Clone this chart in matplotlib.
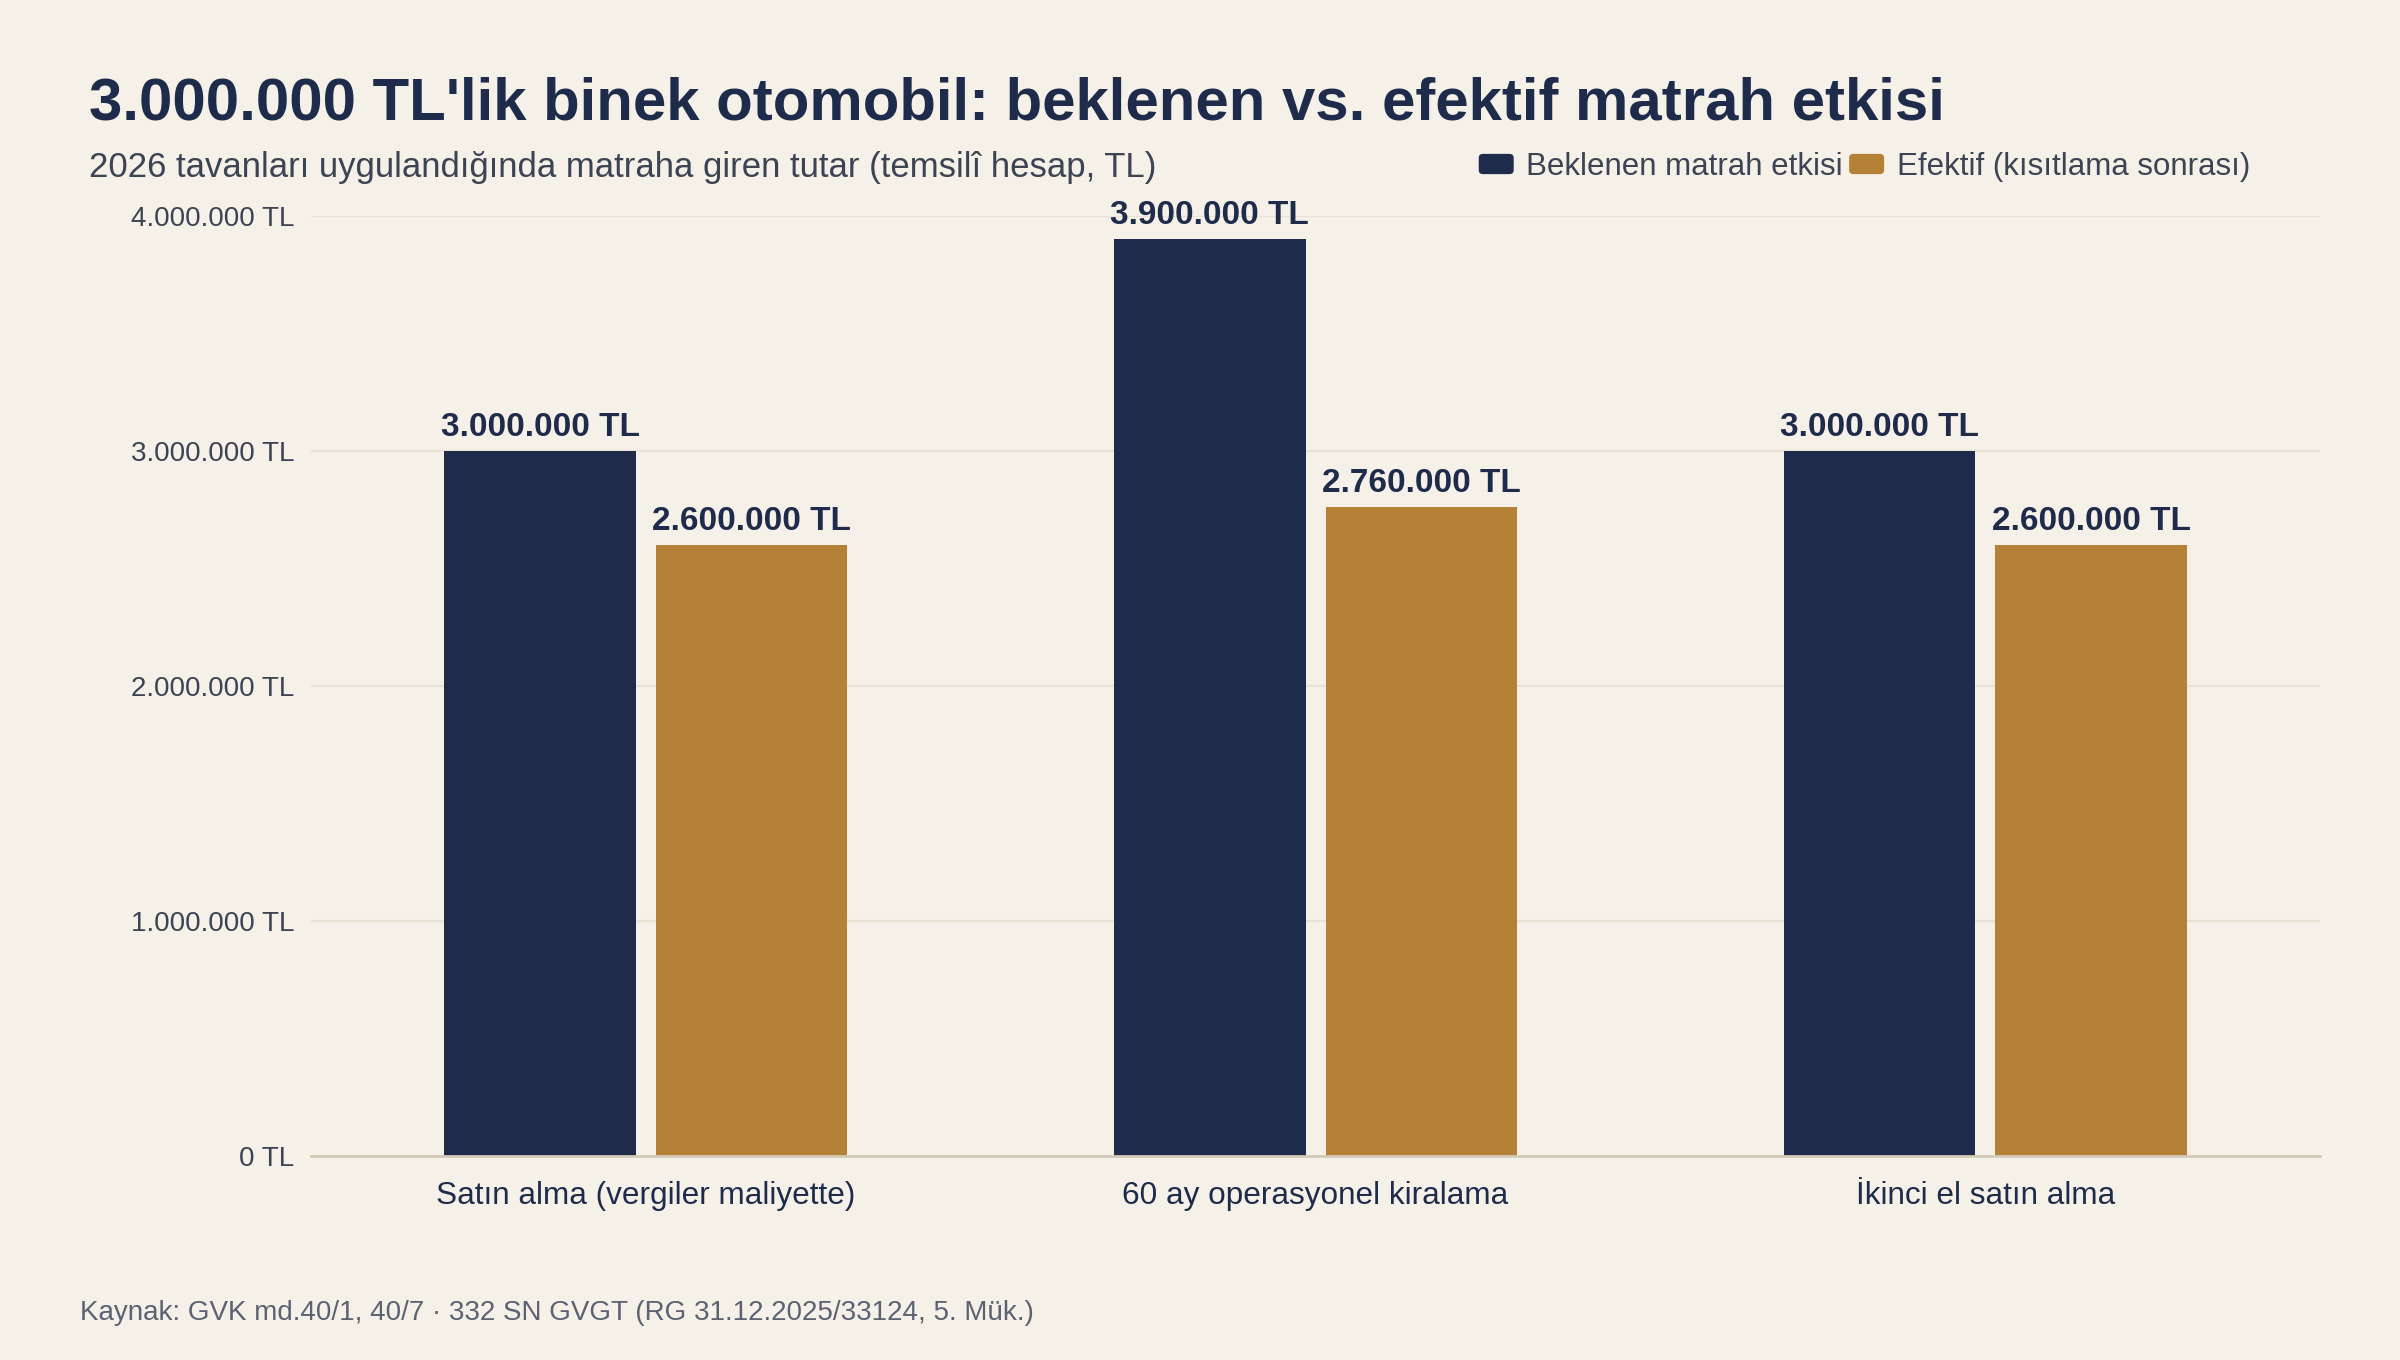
import matplotlib
matplotlib.use("Agg")
import matplotlib.pyplot as plt
import numpy as np
from matplotlib.ticker import FuncFormatter
from matplotlib.patches import FancyBboxPatch, Rectangle
from matplotlib.legend_handler import HandlerPatch

categories = ["Satın alma (vergiler maliyette)", "60 ay operasyonel kiralama", "İkinci el satın alma"]
expected = [3000000, 3900000, 3000000]
effective = [2600000, 2760000, 2600000]
series_names = ["Beklenen matrah etkisi", "Efektif (kısıtlama sonrası)"]
yticks = [0, 1000000, 2000000, 3000000, 4000000]

title = "3.000.000 TL'lik binek otomobil: beklenen vs. efektif matrah etkisi"
subtitle = "2026 tavanları uygulandığında matraha giren tutar (temsilî hesap, TL)"
footer = "Kaynak: GVK md.40/1, 40/7 · 332 SN GVGT (RG 31.12.2025/33124, 5. Mük.)"

BG = "#f5f1e9"
NAVY = "#1e2b4a"
GOLD = "#b58137"
GRID = "#e7e2d4"
BASE = "#d3cbb8"

plt.rcParams['font.family'] = ['Liberation Sans', 'DejaVu Sans']


def fmt_tl(v):
    return f"{int(v):,}".replace(",", ".") + " TL"


class RoundHandler(HandlerPatch):
    def create_artists(self, legend, orig_handle, xdescent, ydescent,
                       width, height, fontsize, trans):
        p = FancyBboxPatch((-xdescent + 2, -ydescent + 2), width - 4, height - 4,
                           boxstyle="round,pad=2,rounding_size=3",
                           facecolor=orig_handle.get_facecolor(),
                           edgecolor="none", transform=trans)
        return [p]


fig = plt.figure(figsize=(24, 13.6), dpi=100, facecolor=BG)
ax = fig.add_axes([0.1296, 0.15, 0.9667 - 0.1296, 0.8412 - 0.15])
ax.set_facecolor(BG)

x = np.arange(len(categories))
w = 0.286
off = w / 2 + 0.015
b1 = ax.bar(x - off, expected, width=w, color=NAVY, label=series_names[0], zorder=3)
b2 = ax.bar(x + off, effective, width=w, color=GOLD, label=series_names[1], zorder=3)

for bars, vals in ((b1, expected), (b2, effective)):
    for r, v in zip(bars, vals):
        ax.annotate(fmt_tl(v), (r.get_x() + r.get_width() / 2, v),
                    xytext=(0, 6), textcoords="offset points",
                    ha="center", va="bottom", fontsize=24, fontweight="bold",
                    color=NAVY, annotation_clip=False, zorder=4)

ax.set_xlim(-0.5, len(categories) - 0.5)
ax.set_ylim(0, 4000000)
ax.set_yticks(yticks)
ax.yaxis.set_major_formatter(FuncFormatter(lambda v, p: fmt_tl(v)))
ax.set_xticks(x)
ax.set_xticklabels(categories)
ax.tick_params(axis='y', length=0, pad=12, labelsize=20, labelcolor="#3c4352")
ax.tick_params(axis='x', length=0, pad=18, labelsize=22.7, labelcolor=NAVY)
ax.grid(axis='y', color=GRID, linewidth=1.6, zorder=0)
for s in ("top", "right", "left"):
    ax.spines[s].set_visible(False)
ax.spines["bottom"].set_color(BASE)
ax.spines["bottom"].set_linewidth(2)
ax.spines["bottom"].set_zorder(5)

fig.text(89 / 2400, 1 - 119 / 1360, title, fontsize=43.1, fontweight="bold",
         color=NAVY, ha="left", va="baseline")
fig.text(89 / 2400, 1 - 177 / 1360, subtitle, fontsize=25,
         color="#3c4352", ha="left", va="baseline")
fig.text(80 / 2400, 1 - 1320 / 1360, footer, fontsize=20,
         color="#5c6272", ha="left", va="baseline")

handles = [Rectangle((0, 0), 1, 1, facecolor=NAVY), Rectangle((0, 0), 1, 1, facecolor=GOLD)]
leg = ax.legend(handles, series_names, loc="center right",
                bbox_to_anchor=(0.944, 1 - 167 / 1360),
                bbox_transform=fig.transFigure, ncol=2, frameon=False,
                fontsize=22.5, handlelength=1.12, handleheight=0.62,
                handletextpad=0.4, columnspacing=0.2, borderpad=0,
                handler_map={Rectangle: RoundHandler()})
for t in leg.get_texts():
    t.set_color("#3c4352")

fig.savefig("out.png", dpi=100, facecolor=BG)
